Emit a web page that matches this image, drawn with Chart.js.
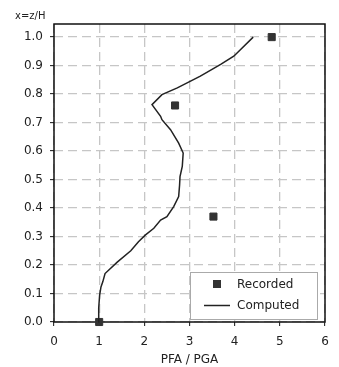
<!DOCTYPE html>
<html>
<head>
<meta charset="utf-8">
<script src="https://cdn.jsdelivr.net/npm/chart.js@4.4.0/dist/chart.umd.min.js"></script>
<style>
  html, body { margin: 0; padding: 0; background: #fff; }
</style>
</head>
<body>
<canvas id="chart" width="339" height="367"></canvas>
<script>
// computed profile
const computed_x = [0.98, 0.99, 1.01, 1.04, 1.08, 1.13, 1.4, 1.7, 1.87, 2.02, 2.21, 2.36, 2.5, 2.65, 2.76, 2.78, 2.79, 2.84, 2.86, 2.76, 2.58, 2.39, 2.36, 2.17, 2.39, 2.73, 3.24, 3.69, 3.98, 4.41]
const computed_y = [0.0, 0.05, 0.094, 0.123, 0.141, 0.17, 0.21, 0.25, 0.282, 0.305, 0.329, 0.358, 0.37, 0.405, 0.44, 0.48, 0.51, 0.546, 0.593, 0.628, 0.675, 0.71, 0.722, 0.763, 0.798, 0.822, 0.863, 0.904, 0.933, 1.0]
// recorded points
const recorded_x = [1.0, 3.53, 2.68, 4.82]
const recorded_y = [0.0, 0.37, 0.76, 1.0]
const x_ticks = [0, 1, 2, 3, 4, 5, 6]
const y_ticks = [0, 0.1, 0.2, 0.3, 0.4, 0.5, 0.6, 0.7, 0.8, 0.9, 1.0]

const font_family = "'DejaVu Sans', sans-serif"

function toPoints(xs, ys) {
  return xs.map((v, i) => ({ x: v, y: ys[i] }))
}

// black frame round the plot + the little "x=z/H" label
const framePlugin = {
  id: 'frame',
  beforeDatasetsDraw(chart) {
    const { ctx, chartArea: a } = chart
    ctx.save()
    ctx.setLineDash([])
    ctx.strokeStyle = '#111'
    ctx.lineWidth = 1.5
    ctx.strokeRect(a.left, a.top, a.right - a.left, a.bottom - a.top)
    ctx.fillStyle = '#222'
    ctx.font = '10px ' + font_family
    ctx.textBaseline = 'alphabetic'
    ctx.fillText('x=z/H', 15, 19)
    ctx.restore()
  }
}

// legend box at bottom right, inside the plot
const legendPlugin = {
  id: 'boxLegend',
  afterDraw(chart) {
    const { ctx } = chart
    const ds = chart.data.datasets
    const bx = 190, by = 272, bw = 127, bh = 47
    ctx.save()
    ctx.setLineDash([])
    ctx.fillStyle = '#fff'
    ctx.fillRect(bx, by, bw, bh)
    ctx.strokeStyle = '#aaa'
    ctx.lineWidth = 1
    ctx.strokeRect(bx + 0.5, by + 0.5, bw, bh)
    ctx.font = '12px ' + font_family
    ctx.textBaseline = 'middle'
    // Recorded
    ctx.fillStyle = ds[1].backgroundColor
    ctx.fillRect(213, 280, 8, 8)
    ctx.fillStyle = '#222'
    ctx.fillText(ds[1].label, 237, 284.5)
    // Computed
    ctx.strokeStyle = ds[0].borderColor
    ctx.lineWidth = 1.5
    ctx.beginPath()
    ctx.moveTo(204, 305.5)
    ctx.lineTo(230, 305.5)
    ctx.stroke()
    ctx.fillText(ds[0].label, 237, 305.5)
    ctx.restore()
  }
}

const ctx = document.getElementById('chart').getContext('2d')
new Chart(ctx, {
  type: 'scatter',
  data: {
    datasets: [{
      label: 'Computed',
      data: toPoints(computed_x, computed_y),
      showLine: true,
      borderColor: '#222',
      borderWidth: 1.5,
      pointRadius: 0,
      tension: 0,
      clip: false
    }, {
      label: 'Recorded',
      data: toPoints(recorded_x, recorded_y),
      showLine: false,
      backgroundColor: '#333',
      borderColor: '#333',
      borderWidth: 1,
      pointStyle: 'rect',
      pointRadius: 5,
      clip: false
    }]
  },
  options: {
    responsive: false,
    animation: false,
    layout: { padding: { top: 24, right: 14, left: 0, bottom: 0 } },
    plugins: {
      legend: { display: false },
      tooltip: { enabled: false }
    },
    scales: {
      x: {
        type: 'linear',
        min: 0, max: 6,
        afterBuildTicks: s => { s.ticks = x_ticks.map(v => ({ value: v })) },
        afterFit: s => { s.height = 45 },
        ticks: { color: '#222', font: { family: font_family, size: 12 }, padding: 9 },
        grid: { color: '#c6c6c6', lineWidth: 1.3, tickColor: '#111', tickLength: 4, tickWidth: 1, tickBorderDash: [] },
        border: { display: false, dash: [9, 5] },
        title: { display: true, text: 'PFA / PGA', color: '#222', font: { family: font_family, size: 12 }, padding: { top: -3, bottom: 0 } }
      },
      y: {
        type: 'linear',
        min: 0, max: 1.046,
        afterBuildTicks: s => { s.ticks = y_ticks.map(v => ({ value: v })) },
        afterFit: s => { s.width = 54 },
        ticks: {
          color: '#222', font: { family: font_family, size: 12 }, padding: 7,
          callback: v => v.toFixed(1)
        },
        grid: { color: '#c6c6c6', lineWidth: 1.3, tickColor: '#111', tickLength: 4, tickWidth: 1, tickBorderDash: [] },
        border: { display: false, dash: [9, 5] }
      }
    }
  },
  plugins: [framePlugin, legendPlugin]
})
</script>
</body>
</html>
